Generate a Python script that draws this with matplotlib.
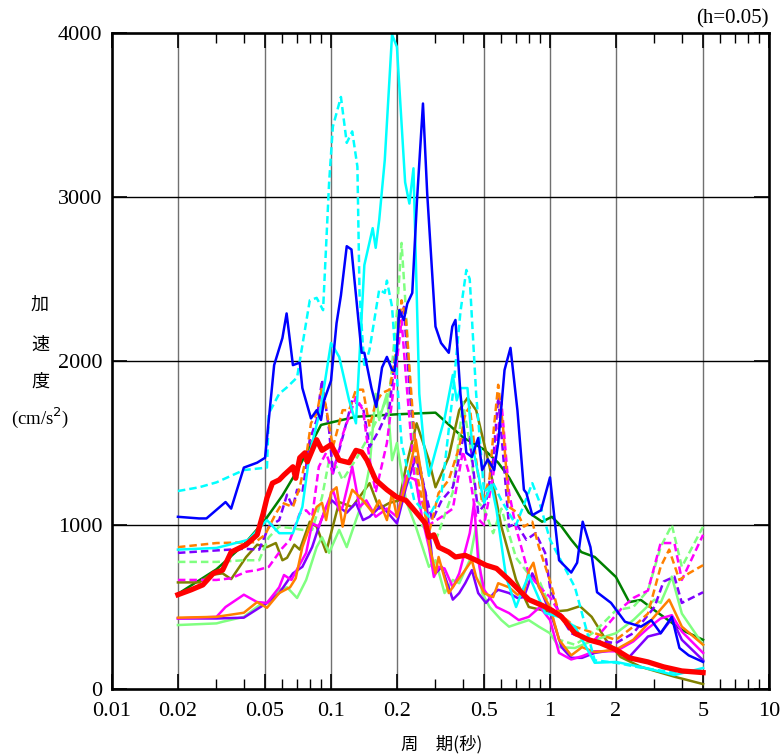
import matplotlib
matplotlib.use('Agg')
import matplotlib.pyplot as plt
from matplotlib.ticker import FixedLocator, NullFormatter

# 周期 (秒) と 加速度 (cm/s2), 図から読み取った値
blue_t = [0.02, 0.025, 0.027, 0.033, 0.035, 0.04, 0.046, 0.05, 0.055, 0.06, 0.0627, 0.067, 0.072, 0.074,
          0.081, 0.086, 0.09, 0.093, 0.1, 0.106, 0.111, 0.118, 0.124, 0.138, 0.142, 0.153, 0.161, 0.171,
          0.18, 0.19, 0.195, 0.2, 0.205, 0.215, 0.223, 0.235, 0.247, 0.263, 0.275, 0.3, 0.318, 0.345,
          0.358, 0.37, 0.39, 0.398, 0.415, 0.44, 0.47, 0.49, 0.52, 0.556, 0.58, 0.62, 0.66, 0.71, 0.76,
          0.78, 0.83, 0.91, 1.0, 1.1, 1.25, 1.33, 1.41, 1.53, 1.64, 1.9, 2.2, 2.6, 2.9, 3.2, 3.6, 3.9,
          4.3, 5.0]
blue_v = [1050, 1040, 1040, 1140, 1100, 1350, 1380, 1410, 1975, 2140, 2290, 1975, 1990, 1835,
          1650, 1700, 1640, 1760, 1880, 2230, 2400, 2700, 2680, 2050, 2050, 1835, 1720, 1960,
          2025, 1945, 1940, 2070, 2310, 2250, 2350, 2415, 2980, 3570, 3020, 2210, 2110, 2050,
          2210, 2250, 1800, 1680, 1440, 1415, 1530, 1335, 1400, 1335, 1500, 1945, 2080, 1700, 1215,
          1195, 1060, 1090, 1290, 785, 710, 770, 1020, 865, 590, 525, 410, 380, 420, 340, 440, 250,
          205, 165]

cyan_t = [0.02, 0.03, 0.042, 0.051, 0.058, 0.067, 0.074, 0.08, 0.09, 0.1, 0.109, 0.121, 0.13, 0.142,
          0.155, 0.16, 0.166, 0.176, 0.19, 0.2, 0.218, 0.228, 0.238, 0.253, 0.265, 0.28, 0.3, 0.33,
          0.36, 0.375, 0.39, 0.42, 0.44, 0.5, 0.54, 0.57, 0.63, 0.7, 0.74, 0.8, 0.95, 1.1, 1.3, 1.6,
          2.0, 2.6, 3.7, 5.0]
cyan_v = [850, 860, 910, 1030, 950, 950, 1110, 1440, 1720, 2110, 2025, 1760, 1620, 2585,
          2810, 2690, 2860, 3225, 3990, 3915, 3090, 2960, 3175, 1800, 1500, 1300, 1450, 1650,
          1915, 1760, 1835, 1835, 1500, 1135, 1245, 1090, 683, 500, 585, 695, 463, 440, 380, 160,
          165, 135, 85, 128]

cyan_d_t = [0.02, 0.025, 0.03, 0.04, 0.051, 0.052, 0.058, 0.063, 0.07, 0.08, 0.086, 0.092, 0.098,
            0.102, 0.111, 0.118, 0.125, 0.132, 0.135, 0.142, 0.15, 0.166, 0.176, 0.18, 0.19, 0.2,
            0.21, 0.24, 0.28, 0.32, 0.36, 0.39, 0.415, 0.43, 0.46, 0.5, 0.55, 0.6, 0.7, 0.83, 0.89,
            1.0, 1.1, 1.3, 1.6, 2.0, 2.6, 3.7, 4.0]
cyan_d_v = [1207, 1230, 1260, 1335, 1350, 1680, 1800, 1840, 1900, 2370, 2385, 2310, 3085,
            3430, 3610, 3330, 3400, 3185, 2410, 1960, 2070, 2435, 2415, 2490, 2330, 1900,
            1500, 1150, 1050, 1200, 1800, 2300, 2555, 2500, 1800, 1200, 1255, 1150, 1000, 1255, 1150,
            910, 805, 620, 175, 160, 130, 100, 100]

green_t = [0.02, 0.03, 0.04, 0.05, 0.06, 0.07, 0.08, 0.09, 0.1, 0.13, 0.2, 0.3, 0.4, 0.5, 0.58,
           0.65, 0.8, 0.92, 1.02, 1.13, 1.25, 1.39, 1.6, 2.0, 2.3, 2.6, 3.0, 4.0, 5.0]
green_v = [580, 730, 880, 1030, 1180, 1330, 1480, 1610, 1625, 1660, 1675, 1685, 1535, 1460, 1380,
           1290, 1075, 1020, 1050, 990, 910, 835, 805, 683, 530, 543, 480, 360, 300]

olive_t = [0.02, 0.025, 0.028, 0.032, 0.035, 0.041, 0.046, 0.051, 0.056, 0.06, 0.063, 0.068, 0.072,
           0.08, 0.086, 0.095, 0.109, 0.125, 0.15, 0.166, 0.185, 0.205, 0.22, 0.246, 0.28, 0.3,
           0.345, 0.385, 0.42, 0.46, 0.53, 0.6, 0.7, 0.8, 1.0, 1.2, 1.37, 1.55, 1.8, 2.1, 2.6, 3.7, 5.0]
olive_v = [650, 650, 695, 705, 670, 805, 880, 865, 890, 785, 800, 880, 850,
           1020, 990, 835, 1140, 1110, 1255, 1100, 1135, 1150, 1355, 1620, 1395, 1230,
           1415, 1700, 1775, 1700, 1355, 990, 665, 500, 470, 480, 505, 440, 300, 195, 135, 75, 30]

orange_d_t = [0.02, 0.03, 0.045, 0.05, 0.056, 0.06, 0.067, 0.072, 0.077, 0.081, 0.086, 0.091, 0.095,
              0.102, 0.113, 0.121, 0.13, 0.14, 0.15, 0.16, 0.171, 0.185, 0.2, 0.21, 0.22, 0.235, 0.25,
              0.28, 0.31, 0.345, 0.385, 0.41, 0.43, 0.46, 0.49, 0.53, 0.555, 0.58, 0.61, 0.65, 0.71,
              0.76, 0.83, 0.89, 1.0, 1.1, 1.3, 1.6, 2.0, 2.4, 2.8, 3.2, 3.5, 3.9, 4.3, 5.0]
orange_d_v = [865, 890, 895, 940, 1070, 1135, 1110, 1230, 1415, 1620, 1680, 1840, 1715,
              1475, 1700, 1700, 1825, 1825, 1600, 1745, 1805, 1825, 2085, 2370, 2250, 1720, 1275,
              950, 1195, 1275, 1475, 1680, 1720, 1395, 1135, 1290, 1600, 1855, 1600, 1110, 1075,
              990, 1020, 865, 660, 460, 380, 340, 300, 380, 460, 745, 850, 665, 705, 755]

orange_t = [0.02, 0.03, 0.04, 0.046, 0.051, 0.058, 0.065, 0.069, 0.074, 0.08, 0.086, 0.091, 0.095,
            0.1, 0.106, 0.113, 0.118, 0.125, 0.14, 0.155, 0.166, 0.18, 0.19, 0.2, 0.228, 0.244, 0.26,
            0.28, 0.3, 0.31, 0.345, 0.37, 0.4, 0.44, 0.46, 0.5, 0.55, 0.58, 0.65, 0.71, 0.76, 0.8,
            0.84, 0.89, 1.0, 1.1, 1.25, 1.4, 1.6, 2.0, 2.4, 2.9, 3.5, 4.0, 5.0]
orange_v = [435, 440, 465, 530, 495, 585, 620, 675, 865, 990, 1110, 1135, 1030,
            1200, 1230, 990, 1110, 1215, 1150, 1075, 1150, 1030, 1195, 1050, 1335, 1520, 1290,
            890, 705, 805, 585, 645, 705, 785, 683, 585, 560, 645, 620, 575, 585, 720,
            770, 620, 500, 300, 205, 255, 225, 240, 300, 420, 545, 380, 270]

magenta_d_t = [0.02, 0.03, 0.035, 0.041, 0.046, 0.052, 0.06, 0.065, 0.072, 0.077, 0.082, 0.088,
               0.095, 0.102, 0.113, 0.13, 0.14, 0.15, 0.16, 0.18, 0.2, 0.21, 0.22, 0.24, 0.28, 0.32,
               0.36, 0.4, 0.43, 0.46, 0.5, 0.55, 0.6, 0.65, 0.7, 0.8, 0.9, 1.0, 1.1, 1.3, 1.6, 2.15,
               2.4, 2.8, 3.2, 3.7, 4.0, 5.0]
magenta_d_v = [665, 665, 675, 715, 725, 745, 860, 910, 1070, 1090, 1050, 1355,
               1440, 1315, 1550, 1780, 1700, 1400, 1200, 1500, 2000, 2250, 1900, 1300, 1000, 1050,
               1100, 1450, 1300, 1050, 1000, 1300, 1750, 1200, 980, 700, 620, 560, 470, 330, 300, 500,
               555, 600, 890, 890, 665, 940]

magenta_t = [0.02, 0.03, 0.033, 0.04, 0.046, 0.051, 0.058, 0.061, 0.066, 0.069, 0.077, 0.082, 0.088,
             0.095, 0.102, 0.109, 0.113, 0.125, 0.135, 0.145, 0.16, 0.18, 0.2, 0.22, 0.244, 0.26,
             0.28, 0.295, 0.31, 0.33, 0.36, 0.385, 0.43, 0.45, 0.47, 0.5, 0.57, 0.65, 0.72, 0.8, 0.9,
             1.0, 1.1, 1.25, 1.4, 1.6, 2.0, 2.4, 2.8, 3.2, 3.6, 4.0, 5.0]
magenta_v = [430, 440, 500, 575, 530, 525, 620, 695, 665, 715, 830, 1010, 990,
             1110, 1215, 1090, 1110, 1355, 1110, 1150, 1050, 1100, 1050, 1300, 1275, 1050,
             865, 683, 745, 735, 620, 705, 950, 1135, 785, 605, 500, 463, 420, 440, 500,
             420, 220, 180, 200, 230, 230, 290, 370, 430, 450, 350, 220]

purple_d_t = [0.02, 0.03, 0.04, 0.047, 0.052, 0.058, 0.063, 0.067, 0.07, 0.074, 0.08, 0.086, 0.091,
              0.098, 0.102, 0.113, 0.125, 0.14, 0.15, 0.166, 0.185, 0.205, 0.215, 0.23, 0.244, 0.27,
              0.29, 0.32, 0.36, 0.4, 0.43, 0.47, 0.51, 0.55, 0.58, 0.61, 0.65, 0.7, 0.78, 0.86, 0.95,
              1.0, 1.1, 1.25, 1.5, 2.0, 2.4, 3.0, 3.3, 3.7, 4.0, 5.0]
purple_d_v = [830, 845, 855, 850, 990, 1030, 1185, 1110, 1215, 1195, 1520, 1640, 1885,
              1580, 1315, 1535, 1760, 1720, 1475, 1580, 1720, 2250, 2330, 1780, 1475, 1195,
              1030, 1150, 1230, 1520, 1535, 1075, 1135, 1395, 1780, 1440, 990, 1010, 910, 950, 830,
              620, 460, 340, 300, 280, 340, 500, 655, 685, 525, 590]

purple_t = [0.02, 0.03, 0.04, 0.051, 0.058, 0.067, 0.074, 0.082, 0.088, 0.095, 0.101, 0.109, 0.118,
            0.13, 0.14, 0.15, 0.17, 0.2, 0.22, 0.244, 0.27, 0.29, 0.3, 0.32, 0.36, 0.385, 0.41, 0.44,
            0.47, 0.51, 0.555, 0.58, 0.65, 0.71, 0.76, 0.83, 0.92, 1.02, 1.13, 1.25, 1.4, 1.6, 2.0,
            2.3, 2.8, 3.2, 3.6, 4.0, 5.0]
purple_v = [430, 430, 435, 525, 585, 705, 745, 865, 990, 1110, 1150, 1110, 1075,
            1135, 1030, 1050, 1120, 1010, 1230, 1415, 1195, 785, 705, 745, 545, 585, 645, 725,
            585, 525, 585, 605, 585, 555, 560, 705, 585, 440, 255, 190, 190, 220, 240,
            195, 320, 340, 430, 300, 175]

lgreen_t = [0.02, 0.03, 0.032, 0.04, 0.047, 0.052, 0.058, 0.063, 0.07, 0.077, 0.086, 0.091, 0.098,
            0.109, 0.118, 0.13, 0.14, 0.15, 0.16, 0.166, 0.18, 0.19, 0.2, 0.22, 0.244, 0.28, 0.3,
            0.33, 0.36, 0.385, 0.43, 0.46, 0.49, 0.53, 0.6, 0.65, 0.72, 0.8, 0.89, 1.0, 1.1, 1.3,
            1.6, 2.0, 2.4, 3.0, 3.2, 3.6, 4.0, 5.0]
lgreen_v = [390, 400, 410, 440, 510, 525, 605, 620, 555, 665, 865, 925, 830,
            970, 865, 1030, 1150, 1355, 1800, 1640, 1800, 1395, 1500, 1150, 990, 745, 785,
            585, 665, 645, 785, 990, 585, 500, 420, 380, 400, 420, 380, 340, 255, 250,
            300, 340, 420, 545, 525, 685, 460, 270]

lgreen_d_t = [0.02, 0.03, 0.04, 0.047, 0.052, 0.058, 0.067, 0.074, 0.082, 0.091, 0.098, 0.106,
              0.113, 0.13, 0.15, 0.17, 0.185, 0.2, 0.21, 0.22, 0.24, 0.26, 0.3, 0.36, 0.4, 0.43,
              0.46, 0.5, 0.55, 0.6, 0.7, 0.8, 0.9, 1.0, 1.1, 1.3, 1.6, 2.0, 2.4, 2.8, 3.2, 3.6,
              4.0, 5.0]
lgreen_d_v = [775, 775, 785, 785, 925, 990, 980, 970, 970, 1170, 1395, 1355,
              1275, 1400, 1550, 1700, 1800, 2300, 2720, 2300, 1400, 1000, 900, 1200, 1750, 1500,
              1150, 1100, 950, 1100, 800, 700, 650, 500, 300, 270, 350, 480, 500, 600, 865, 1000,
              745, 990]

red_t = [0.02, 0.023, 0.026, 0.029, 0.032, 0.035, 0.041, 0.046, 0.049, 0.051, 0.054, 0.058, 0.061,
         0.067, 0.069, 0.072, 0.076, 0.078, 0.086, 0.091, 0.1, 0.109, 0.121, 0.13, 0.138, 0.146,
         0.16, 0.18, 0.2, 0.22, 0.244, 0.27, 0.28, 0.295, 0.31, 0.345, 0.37, 0.41, 0.46, 0.51, 0.57,
         0.65, 0.72, 0.8, 0.92, 1.02, 1.13, 1.3, 1.5, 1.7, 2.0, 2.3, 2.8, 3.3, 4.0, 5.0]
red_v = [575, 605, 635, 705, 725, 835, 880, 940, 1070, 1165, 1255, 1275, 1305,
         1355, 1285, 1410, 1440, 1385, 1520, 1455, 1490, 1395, 1380, 1455, 1445, 1395,
         1275, 1215, 1170, 1150, 1080, 1010, 925, 940, 865, 835, 805, 815, 785, 755, 735,
         665, 605, 545, 510, 480, 440, 340, 300, 280, 240, 190, 165, 135, 110, 100]

fig = plt.figure(figsize=(7.82, 7.56), dpi=100)
ax = fig.add_axes([112 / 782, 67 / 756, 657 / 782, 656 / 756])

dash = (3, 1.6)
lw = 1.8
ax.plot(green_t, green_v, color='#008000', lw=lw)
ax.plot(olive_t, olive_v, color='#808000', lw=lw)
ax.plot(lgreen_t, lgreen_v, color='#80ff80', lw=lw)
ax.plot(lgreen_d_t, lgreen_d_v, color='#80ff80', lw=lw, dashes=dash)
ax.plot(purple_t, purple_v, color='#8000ff', lw=lw)
ax.plot(purple_d_t, purple_d_v, color='#8000ff', lw=lw, dashes=dash)
ax.plot(magenta_t, magenta_v, color='#ff00ff', lw=lw)
ax.plot(magenta_d_t, magenta_d_v, color='#ff00ff', lw=lw, dashes=dash)
ax.plot(orange_t, orange_v, color='#ff8000', lw=lw)
ax.plot(orange_d_t, orange_d_v, color='#ff8000', lw=lw, dashes=dash)
ax.plot(cyan_t, cyan_v, color='#00ffff', lw=lw)
ax.plot(cyan_d_t, cyan_d_v, color='#00ffff', lw=lw, dashes=dash)
ax.plot(blue_t, blue_v, color='#0000ff', lw=lw)
ax.plot(red_t, red_v, color='#ff0000', lw=3.8)

ax.set_xscale('log')
ax.set_xlim(0.01, 10)
ax.set_ylim(0, 4000)

major_x = [0.01, 0.02, 0.05, 0.1, 0.2, 0.5, 1, 2, 5, 10]
major_lbl = ['0.01', '0.02', '0.05', '0.1', '0.2', '0.5', '1', '2', '5', '10']
minor_x = [0.03, 0.04, 0.06, 0.07, 0.08, 0.09, 0.3, 0.4, 0.6, 0.7, 0.8, 0.9,
           3, 4, 6, 7, 8, 9]
ax.xaxis.set_major_locator(FixedLocator(major_x))
ax.set_xticklabels(major_lbl)
ax.xaxis.set_minor_locator(FixedLocator(minor_x))
ax.xaxis.set_minor_formatter(NullFormatter())
ax.set_yticks([0, 1000, 2000, 3000, 4000])

for x in major_x[1:-1]:
    ax.axvline(x, color='#707070', lw=1.0, zorder=0.5)
for y in [1000, 2000, 3000]:
    ax.axhline(y, color='black', lw=1.0, zorder=0.5)

ax.tick_params(which='major', direction='in', length=11, width=1.2, top=True, right=True,
               labelsize=16, color='black')
ax.tick_params(axis='x', which='major', pad=9)
ax.tick_params(axis='y', which='major', pad=7)
ax.tick_params(which='minor', direction='in', length=7, width=1.0, top=True)
for lab in ax.get_xticklabels() + ax.get_yticklabels():
    lab.set_family('Liberation Serif')
for s in ax.spines.values():
    s.set_linewidth(1.9)

jp = ['Noto Sans CJK JP', 'DejaVu Sans']
fig.text(40 / 782, 1 - 305 / 756, '加', family=jp, fontsize=13, ha='center', va='center')
fig.text(40 / 782, 1 - 345 / 756, '速', family=jp, fontsize=13, ha='center', va='center')
fig.text(40 / 782, 1 - 382 / 756, '度', family=jp, fontsize=13, ha='center', va='center')
fig.text(40 / 782, 1 - 418 / 756, '(cm/s$^2$)', family='Liberation Serif', fontsize=13.5,
         ha='center', va='center')
fig.text(442 / 782, 1 - 744 / 756, '周\u3000期(秒)', family=jp, fontsize=12.5,
         ha='center', va='center')
fig.text(769 / 782, 1 - 19 / 756, '(h=0.05)', family='Liberation Serif', fontsize=15,
         ha='right', va='center')

fig.savefig('out.png', dpi=100)
